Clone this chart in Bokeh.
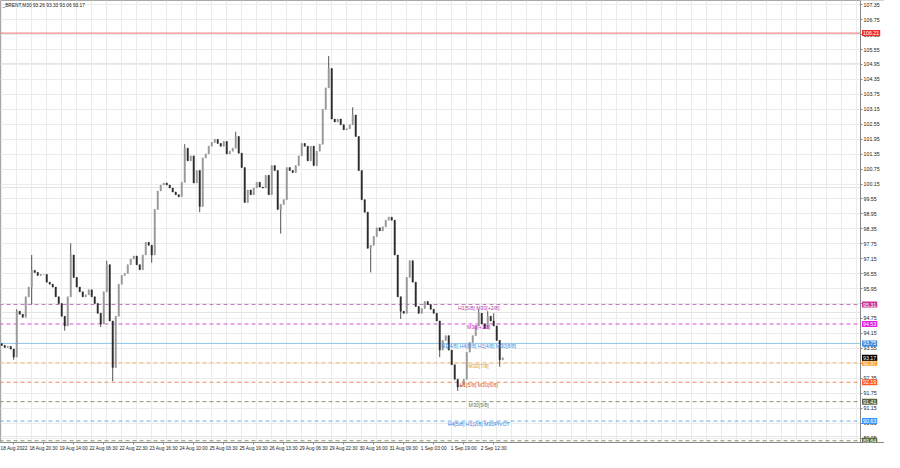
from bokeh.plotting import figure
from bokeh.models import Range1d, FixedTicker, Label, ColumnDataSource, LinearAxis, Grid
from bokeh.core.properties import value
from bokeh.embed import file_html
from bokeh.resources import INLINE

# ---------------- data ----------------
title_text = "_BRENT,M30  93.26 93.33 93.06 93.17"

date_labels = ["18 Aug 2022", "18 Aug 20:30", "19 Aug 14:00", "22 Aug 06:30", "22 Aug 22:30",
               "23 Aug 16:30", "24 Aug 10:00", "25 Aug 03:30", "25 Aug 19:30", "26 Aug 13:30",
               "29 Aug 06:30", "29 Aug 22:30", "30 Aug 16:00", "31 Aug 09:30", "1 Sep 03:00",
               "1 Sep 19:00", "2 Sep 12:30"]

price_ticks = [89.95, 90.55, 91.15, 91.75, 92.35, 92.95, 93.55, 94.15, 94.75, 95.35,
               95.95, 96.55, 97.15, 97.75, 98.35, 98.95, 99.55, 100.15, 100.75, 101.35,
               101.95, 102.55, 103.15, 103.75, 104.35, 104.95, 105.55, 106.15, 106.75, 107.35]

first_open = 93.74
close = [93.67, 93.59, 93.63, 93.52, 93.20, 95.04, 94.92, 94.80, 95.62, 96.01,
         96.68, 96.60, 96.48, 96.52, 96.52, 96.21, 96.13, 96.01, 95.62, 95.35,
         94.84, 94.45, 95.62, 97.30, 96.40, 96.01, 95.82, 95.62, 95.70, 95.90,
         95.62, 95.35, 94.96, 94.53, 95.82, 96.91, 94.65, 92.78, 94.84, 96.13,
         96.48, 96.56, 96.91, 97.14, 97.26, 96.91, 96.71, 97.30, 97.81, 97.69,
         97.30, 99.13, 99.87, 100.11, 100.19, 100.11, 99.99, 99.83, 99.72, 99.64,
         100.22, 101.59, 101.08, 101.28, 100.19, 100.69, 99.25, 101.20, 101.36, 101.67,
         101.82, 101.94, 101.78, 101.67, 101.86, 101.36, 101.47, 101.59, 102.06, 101.39,
         100.81, 99.41, 99.91, 99.72, 99.99, 100.22, 100.03, 99.99, 100.50, 99.72,
         100.89, 100.69, 99.13, 99.33, 99.52, 100.81, 100.69, 100.61, 100.89, 101.28,
         101.78, 101.67, 101.08, 101.67, 100.89, 101.47, 101.75, 103.15, 104.01, 104.79,
         102.76, 102.64, 102.76, 102.53, 102.33, 102.37, 102.53, 102.92, 102.06, 100.69,
         99.52, 99.02, 97.57, 97.69, 98.04, 98.39, 98.27, 98.43, 98.70, 98.82,
         98.70, 97.30, 95.62, 95.04, 94.96, 96.40, 97.07, 96.21, 95.23, 94.96,
         95.15, 95.43, 95.31, 95.12, 94.96, 94.65, 93.48, 93.87, 94.06, 93.48,
         92.89, 92.31, 92.00, 92.07, 92.31, 93.40, 93.79, 94.06, 94.45, 94.96,
         94.53, 94.34, 94.84, 94.65, 94.45, 93.87, 93.09, 93.17]

spike_high_idx = [5, 10, 23, 35, 61, 78, 109, 117, 159, 162, 164]
spike_high_val = [95.12, 97.30, 97.77, 97.07, 101.75, 102.25, 105.29, 103.23, 95.12, 95.04, 94.96]
spike_low_idx = [4, 10, 21, 33, 37, 50, 66, 93, 123, 133, 146, 152, 166]
spike_low_val = [93.09, 95.31, 94.26, 94.41, 92.23, 96.99, 99.02, 98.16, 96.60, 94.73, 93.20, 91.84, 92.81]

level_prices = [95.31, 94.53, 93.75, 92.97, 92.19, 91.41, 90.63, 89.84]
level_texts = ["H1[5/8] M30[+2/8]", "M30[+1/8]", "H1[4/8] H4[8/8] H1[4/8] M30[8/8]", "M30[7/8]",
               "H1[5/8] M30[6/8]", "M30[5/8]", "H4[5/8] H1[2/8] M30PIVOT", "M30[3/8]"]
level_line_colors = ["#c27ac2", "#d64fd6", "#8cc4e8", "#f2b866", "#f08a5c", "#8a9470", "#6aaee8", "#8a9470"]
level_text_colors = ["#b03ab0", "#cc22cc", "#3a8ee0", "#e09a20", "#e05a20", "#6b7448", "#2a80e0", "#6b7448"]
level_box_colors = ["#cc3399", "#e020e0", "#3a8ee0", "#ffa030", "#ff5a28", "#5a6440", "#3a99ff", "#5a6a38"]
level_dashes = ["4 3", "4 3", "solid", "4 3", "4 3", "4 3", "4 3", "4 3"]

alert_price = 106.21
alert_text = "106.21"
current_price = 93.17
current_text = "93.17"

# ---------------- derived candles ----------------
n = len(close)
idx = list(range(n))
opens = [first_open] + close[:-1]
highs = [max(o, c) for o, c in zip(opens, close)]
lows = [min(o, c) for o, c in zip(opens, close)]
for i, v in zip(spike_high_idx, spike_high_val):
    highs[i] = max(highs[i], v)
for i, v in zip(spike_low_idx, spike_low_val):
    lows[i] = min(lows[i], v)
tops = [max(o, c) for o, c in zip(opens, close)]
bots = [min(o, c) for o, c in zip(opens, close)]
colors = ["#9c9c9c" if c >= o else "#2e2e2e" for o, c in zip(opens, close)]

src = ColumnDataSource(dict(x=idx, o=opens, h=highs, l=lows, c=close, top=tops, bot=bots, col=colors))

FW, FH = 884, 442
FONT = "Liberation Sans"
X0 = -0.4
X1 = X0 + FW / 3.0
AXIS_X = X0 + 860 / 3.0     # position of the price scale inside the frame
Y0, Y1 = 89.77, 107.52

p = figure(frame_width=FW, frame_height=FH, x_range=Range1d(X0, X1),
           y_range=Range1d(Y0, Y1), output_backend="svg", toolbar_location=None,
           y_axis_location=None, min_border=0, min_border_right=0, min_border_bottom=0,
           min_border_left=0, min_border_top=0,
           background_fill_color="white", border_fill_color="white")
p.outline_line_color = "#a8a8a8"

# grids
p.xgrid.ticker = FixedTicker(ticks=[5 * k for k in range(58)])
p.xgrid.grid_line_color = "#ebebeb"

# price scale (right, fixed inside the frame)
yax = LinearAxis(fixed_location=AXIS_X)
yax.ticker = FixedTicker(ticks=price_ticks)
yax.major_label_overrides = {t: f"{t:.2f}" for t in price_ticks}
yax.axis_line_color = "#888888"
yax.major_tick_line_color = "#888888"
yax.major_tick_out = 2
yax.major_tick_in = 0
yax.minor_tick_line_color = None
yax.major_label_standoff = 1
yax.major_label_text_font_size = "5.3px"
yax.major_label_text_font = FONT
yax.major_label_text_color = "#222222"
p.add_layout(yax, "right")
p.add_layout(Grid(dimension=1, ticker=yax.ticker, grid_line_color="#ebebeb"))

# x axis (bottom)
xt = [10 * k + 4 for k in range(len(date_labels))]
p.xaxis.ticker = FixedTicker(ticks=xt)
p.xaxis.major_label_overrides = {t: s for t, s in zip(xt, date_labels)}
p.xaxis.axis_line_color = "#888888"
p.xaxis.major_tick_line_color = "#888888"
p.xaxis.major_tick_out = 2
p.xaxis.major_tick_in = 0
p.xaxis.minor_tick_line_color = None
p.xaxis.major_label_standoff = 1
p.xaxis.major_label_text_font_size = "4.8px"
p.xaxis.major_label_text_font = FONT
p.xaxis.major_label_text_color = "#222222"

# white strip behind the price scale (covers grid there)
p.quad(left=[AXIS_X], right=[X1 + 5], bottom=[Y0 - 5], top=[Y1 + 5], fill_color="white", line_color=None)

# horizontal levels
p.line(x=[X0 - 5, AXIS_X], y=[alert_price, alert_price], line_color="#f07070", line_width=1)
for pr, lc, dash in zip(level_prices, level_line_colors, level_dashes):
    p.line(x=[X0 - 5, AXIS_X], y=[pr, pr], line_color=lc, line_width=1, line_dash=dash)

# candles
p.segment(x0="x", y0="l", x1="x", y1="h", source=src, line_color="#404040", line_width=0.9)
p.vbar(x="x", top="top", bottom="bot", width=0.45, source=src, fill_color="col", line_color="col", line_width=0.5)

# level texts
lsrc = ColumnDataSource(dict(x=[159.0] * len(level_prices), y=level_prices, t=level_texts, c=level_text_colors))
p.text(x="x", y="y", text="t", text_color="c", source=lsrc, text_align="center", text_baseline="middle",
       y_offset=3, text_font_size="5.2px", text_font=value(FONT))

# title
p.add_layout(Label(x=2, y=FH - 2, x_units="screen", y_units="screen", text=title_text,
                   text_baseline="top", text_font_size="4.8px", text_font=FONT, text_color="#222222"))

# price boxes on the scale
boxes = [(alert_price, alert_text, "#f03030")] + \
        [(pr, f"{pr:.2f}", bc) for pr, bc in zip(level_prices, level_box_colors)] + \
        [(current_price, current_text, "#000000")]
for pr, txt, bc in boxes:
    p.add_layout(Label(x=AXIS_X + 0.5, y=pr, x_units="data", y_units="data", text=txt,
                       text_baseline="middle", text_align="left", text_font_size="5.3px", text_font=FONT,
                       text_color="white", background_fill_color=bc, padding=1))

open("out.html", "w").write(file_html(p, INLINE))
